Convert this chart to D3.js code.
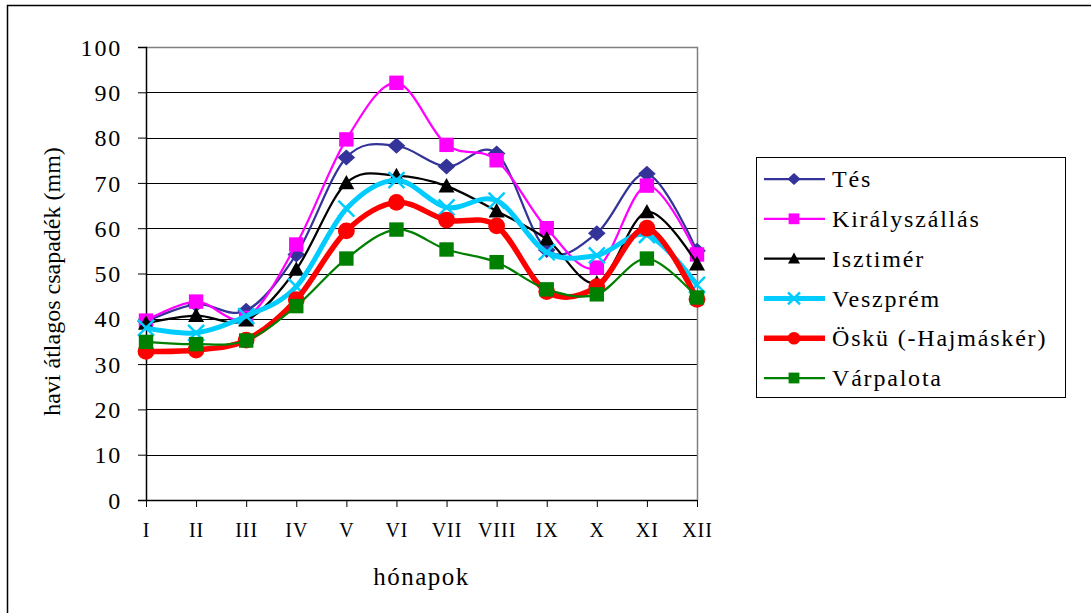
<!DOCTYPE html>
<html>
<head>
<meta charset="utf-8">
<script src="https://cdn.jsdelivr.net/npm/d3@7"></script>
<style>
  body { margin: 0; background: #fff; }
  svg { display: block; }
  svg text { font-family: "Times New Roman", "Liberation Serif", Times, "DejaVu Serif", serif; }
</style>
</head>
<body>
<div id="chart"></div>
<script>
// Data
const months = ["I", "II", "III", "IV", "V", "VI", "VII", "VIII", "IX", "X", "XI", "XII"];
const yTicks = [0, 10, 20, 30, 40, 50, 60, 70, 80, 90, 100];

const tes        = [39.4, 43.2, 41.8, 54.2, 75.6, 78.2, 73.6, 76.5, 55.2, 58.9, 72.0, 55.0];
const kiraly     = [39.6, 43.8, 40.2, 56.4, 79.6, 92.1, 78.4, 75.0, 60.0, 51.3, 69.4, 54.2];
const isztimer   = [39.0, 40.7, 39.7, 50.9, 70.0, 71.6, 69.3, 63.8, 57.6, 47.9, 63.6, 52.1];
const veszprem   = [38.0, 36.9, 40.6, 47.1, 64.3, 70.6, 64.6, 66.1, 54.7, 54.0, 58.5, 47.5];
const osku       = [32.8, 33.1, 35.3, 44.2, 59.4, 65.7, 61.8, 60.5, 46.0, 47.1, 60.0, 44.3];
const varpalota  = [34.9, 34.4, 35.2, 42.8, 53.3, 59.7, 55.3, 52.5, 46.5, 45.4, 53.3, 44.7];

const seriesNames = ["Tés", "Királyszállás", "Isztimér", "Veszprém", "Öskü (-Hajmáskér)", "Várpalota"];

const series = [
  { name: seriesNames[0], values: tes,       color: "#333399", width: 2.25, marker: "diamond" },
  { name: seriesNames[1], values: kiraly,    color: "#ff00ff", width: 2.25, marker: "square" },
  { name: seriesNames[2], values: isztimer,  color: "#000000", width: 2.25, marker: "triangle" },
  { name: seriesNames[3], values: veszprem,  color: "#00ccff", width: 5,    marker: "cross" },
  { name: seriesNames[4], values: osku,      color: "#ff0000", width: 5.5,  marker: "circle" },
  { name: seriesNames[5], values: varpalota, color: "#008000", width: 2.25, marker: "square" }
];

const SERIF = '"Times New Roman", "Liberation Serif", Times, "DejaVu Serif", serif';

// Layout
const W = 1091, H = 613;
const plot = { left: 146, right: 697, top: 47, bottom: 500 };

const svg = d3.select("#chart").append("svg")
  .attr("width", W).attr("height", H)
  .attr("font-family", SERIF);

// outer chart frame (left + top edge visible)
svg.append("path")
  .attr("d", `M7.5,${H} L7.5,5.5 L${W},5.5`)
  .attr("fill", "none").attr("stroke", "#000").attr("stroke-width", 1.5);

const x = d3.scalePoint().domain(months).range([plot.left, plot.right]);
const y = d3.scaleLinear().domain([0, 100]).range([plot.bottom, plot.top]);

// gridlines
svg.append("g").selectAll("line")
  .data(yTicks.filter(d => d > 0 && d < 100))
  .enter().append("line")
  .attr("x1", plot.left).attr("x2", plot.right)
  .attr("y1", d => Math.round(y(d)) + 0.5).attr("y2", d => Math.round(y(d)) + 0.5)
  .attr("stroke", "#000").attr("stroke-width", 1);

// plot area border (top + right)
svg.append("path")
  .attr("d", `M${plot.left},${plot.top + 0.5} L${plot.right + 0.5},${plot.top + 0.5} L${plot.right + 0.5},${plot.bottom}`)
  .attr("fill", "none").attr("stroke", "#808080").attr("stroke-width", 1.5);

// Y axis
const yAxis = svg.append("g")
  .attr("transform", `translate(${plot.left},0)`)
  .call(d3.axisLeft(y).tickValues(yTicks).tickSize(8).tickPadding(16));
yAxis.attr("font-family", SERIF);
yAxis.select(".domain").attr("stroke-width", 1.5);
yAxis.selectAll("text")
  .attr("font-family", SERIF)
  .style("font-size", "24px").style("letter-spacing", "1.8px")
  .attr("fill", "#000").attr("dy", "0.34em");
yAxis.selectAll("line").attr("stroke-width", 1);

// X axis
const xAxis = svg.append("g")
  .attr("transform", `translate(0,${plot.bottom})`)
  .call(d3.axisBottom(x).tickSize(7).tickPadding(16));
xAxis.attr("font-family", SERIF);
xAxis.select(".domain").attr("d", `M${plot.left},0.5H${plot.right}`).attr("stroke-width", 1.5);
xAxis.selectAll("text")
  .attr("font-family", SERIF)
  .style("font-size", "20px").style("letter-spacing", "1px")
  .attr("fill", "#000");

// axis titles
svg.append("text")
  .attr("transform", `translate(60,${(plot.top + plot.bottom) / 2 + 8}) rotate(-90)`)
  .attr("text-anchor", "middle")
  .style("font-size", "24px")
  .text("havi átlagos csapadék (mm)");

svg.append("text")
  .attr("x", (plot.left + plot.right) / 2).attr("y", 585)
  .attr("text-anchor", "middle")
  .style("font-size", "25px").style("letter-spacing", "1.5px")
  .text("hónapok");

// markers
function drawMarker(g, type, color, s) {
  if (type === "diamond") {
    g.append("path").attr("d", `M0,${-s} L${s * 1.1},0 L0,${s} L${-s * 1.1},0 Z`).attr("fill", color);
  } else if (type === "square") {
    g.append("rect").attr("x", -s * 0.9).attr("y", -s * 0.9).attr("width", s * 1.8).attr("height", s * 1.8).attr("fill", color);
  } else if (type === "triangle") {
    g.append("path").attr("d", `M0,${-s} L${s},${s * 0.8} L${-s},${s * 0.8} Z`).attr("fill", color);
  } else if (type === "cross") {
    g.append("path").attr("d", `M${-s},${-s} L${s},${s} M${-s},${s} L${s},${-s}`)
      .attr("stroke", color).attr("stroke-width", 2.5).attr("fill", "none");
  } else if (type === "circle") {
    g.append("circle").attr("r", s * 1.05).attr("fill", color);
  }
}

const line = d3.line()
  .x((d, i) => x(months[i]))
  .y(d => y(d))
  .curve(d3.curveCardinal.tension(0));

series.forEach(s => {
  const g = svg.append("g");
  g.append("path")
    .attr("d", line(s.values))
    .attr("fill", "none")
    .attr("stroke", s.color)
    .attr("stroke-width", s.width)
    .attr("stroke-linejoin", "round");
  s.values.forEach((v, i) => {
    const m = g.append("g").attr("transform", `translate(${x(months[i])},${y(v)})`);
    drawMarker(m, s.marker, s.color, 8);
  });
});

// legend
const legend = svg.append("g");
legend.append("rect")
  .attr("x", 756.5).attr("y", 157.5).attr("width", 309).attr("height", 240)
  .attr("fill", "#fff").attr("stroke", "#000").attr("stroke-width", 1);

series.forEach((s, i) => {
  const cy = 179 + i * 39.8;
  const g = legend.append("g");
  g.append("line")
    .attr("x1", 764).attr("x2", 825).attr("y1", cy).attr("y2", cy)
    .attr("stroke", s.color).attr("stroke-width", s.width);
  const m = g.append("g").attr("transform", `translate(794,${cy})`);
  drawMarker(m, s.marker, s.color, 6);
  g.append("text")
    .attr("x", 832).attr("y", cy).attr("dy", "0.34em")
    .attr("font-family", SERIF)
    .style("font-size", "24px").style("letter-spacing", "1.8px")
    .text(s.name);
});
</script>
</body>
</html>
